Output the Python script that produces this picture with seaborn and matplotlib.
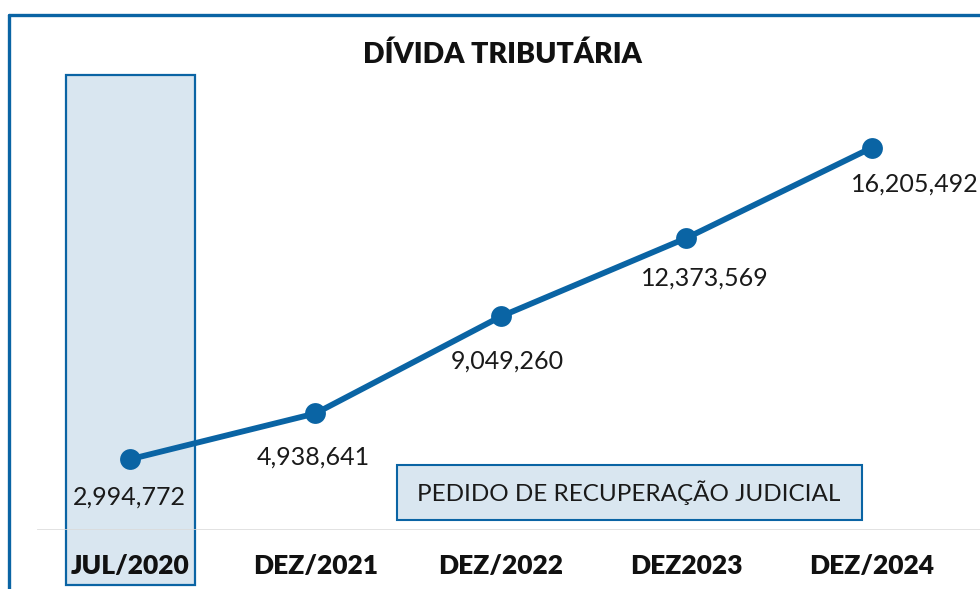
import numpy as np
import pandas as pd
import seaborn as sns
import matplotlib.pyplot as plt
from matplotlib.patches import Rectangle
from matplotlib.lines import Line2D

# data
periods = ['JUL/2020', 'DEZ/2021', 'DEZ/2022', 'DEZ2023', 'DEZ/2024']
debt = [2994772, 4938641, 9049260, 12373569, 16205492]

# nudges of the value labels (px)
label_dx = [0, -2, 6, 18, 43]
label_dy = [38, 44, 45, 40, 36]

blue = '#0A64A4'
light = '#D9E6F0'

sns.set_theme(style='white')
plt.rcParams['font.family'] = ['Lato', 'DejaVu Sans']

df = pd.DataFrame({'pos': np.arange(len(periods)), 'debt': debt})

fig = plt.figure(figsize=(9.8, 5.89), dpi=100)
ax = fig.add_axes([37 / 980, 59 / 589, 943 / 980, 530 / 589])

sns.lineplot(data=df, x='pos', y='debt', color=blue, linewidth=4.2,
             marker='o', markersize=15, markeredgewidth=0, ax=ax, zorder=5)

ax.set_xlim(-0.5, 4.582)
ax.set_ylim(0, 22.46e6)

# highlighted first column
ax.add_patch(Rectangle((-0.345, -2.33e6), 0.695, 21.61e6, facecolor=light,
                       edgecolor=blue, linewidth=1.6, clip_on=False, zorder=0.2))

ax.axhline(0, color='#D9D9D9', linewidth=1.8, zorder=2)

for i, v in enumerate(debt):
    ax.annotate(f'{v:,}', (i, v), xytext=(label_dx[i] * 0.72, -label_dy[i] * 0.72),
                textcoords='offset points', ha='center', va='center',
                fontsize=18, color='#1a1a1a', zorder=6)

# note box
ax.add_patch(Rectangle((1.439, 0.424e6), 2.507, 2.33e6, facecolor=light,
                       edgecolor=blue, linewidth=1.5, zorder=3))
ax.text(2.69, 1.59e6, 'PEDIDO DE RECUPERAÇÃO JUDICIAL', ha='center',
        va='center', fontsize=17.5, color='#1a1a1a', zorder=6)

ax.set_xticks(range(len(periods)))
ax.set_xticklabels(periods, fontsize=19, fontweight='heavy', color='#111111')
ax.tick_params(axis='x', length=0, pad=17)
ax.set_yticks([])
ax.set_xlabel('')
ax.set_ylabel('')
for s in ax.spines.values():
    s.set_visible(False)

fig.text(502 / 980, 1 - 55 / 589, 'DÍVIDA TRIBUTÁRIA', ha='center',
         va='center', fontsize=20.5, fontweight='heavy', color='#111111')

# outer frame (left and top edges)
fig.add_artist(Line2D([9 / 980, 9 / 980], [0, 1 - 14.5 / 589],
                      color=blue, linewidth=2.4))
fig.add_artist(Line2D([9 / 980, 1], [1 - 14.5 / 589, 1 - 14.5 / 589],
                      color=blue, linewidth=2.4))

fig.savefig('out.png', dpi=100)
